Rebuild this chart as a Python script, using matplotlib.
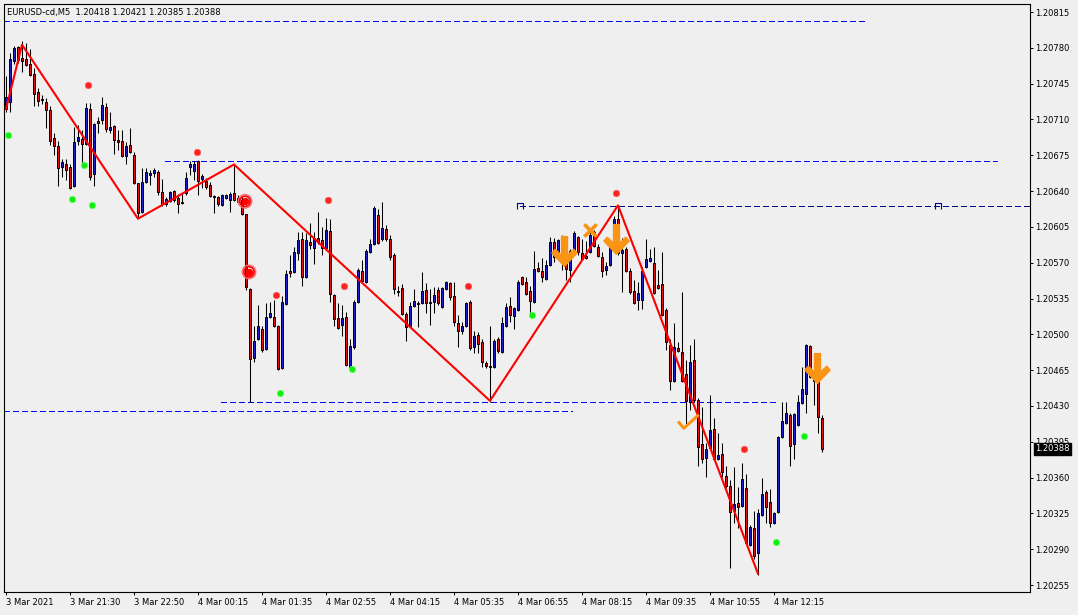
import numpy as np
import matplotlib.pyplot as plt
from matplotlib.path import Path
from matplotlib.transforms import blended_transform_factory

# EURUSD M5 candles (open / high / low / close)
opens = [1.20720, 1.20727, 1.20767, 1.20781, 1.20770, 1.20769, 1.20764, 1.20754, 1.20737, 1.20730,
         1.20727, 1.20719, 1.20692, 1.20684, 1.20664, 1.20666, 1.20664, 1.20645, 1.20689, 1.20691,
         1.20686, 1.20720, 1.20657, 1.20708, 1.20709, 1.20722, 1.20700, 1.20704, 1.20690, 1.20689,
         1.20674, 1.20685, 1.20675, 1.20648, 1.20620, 1.20649, 1.20656, 1.20658, 1.20659, 1.20639,
         1.20627, 1.20630, 1.20640, 1.20633, 1.20629, 1.20638, 1.20664, 1.20660, 1.20669, 1.20652,
         1.20650, 1.20646, 1.20635, 1.20634, 1.20626, 1.20633, 1.20631, 1.20638, 1.20629, 1.20631,
         1.20618, 1.20544, 1.20477, 1.20495, 1.20505, 1.20486, 1.20517, 1.20517, 1.20508, 1.20467,
         1.20530, 1.20562, 1.20561, 1.20579, 1.20593, 1.20556, 1.20590, 1.20584, 1.20594, 1.20592,
         1.20584, 1.20601, 1.20538, 1.20516, 1.20509, 1.20517, 1.20467, 1.20488, 1.20532, 1.20562,
         1.20551, 1.20580, 1.20588, 1.20617, 1.20593, 1.20603, 1.20593, 1.20578, 1.20542, 1.20545,
         1.20520, 1.20508, 1.20528, 1.20531, 1.20531, 1.20543, 1.20531, 1.20532, 1.20543, 1.20527,
         1.20544, 1.20550, 1.20537, 1.20511, 1.20503, 1.20508, 1.20532, 1.20488, 1.20499, 1.20492,
         1.20472, 1.20469, 1.20468, 1.20495, 1.20483, 1.20508, 1.20528, 1.20518, 1.20524, 1.20556,
         1.20551, 1.20542, 1.20532, 1.20565, 1.20562, 1.20554, 1.20568, 1.20590, 1.20575, 1.20592,
         1.20571, 1.20563, 1.20579, 1.20595, 1.20579, 1.20577, 1.20580, 1.20600, 1.20585, 1.20576,
         1.20563, 1.20568, 1.20590, 1.20613, 1.20579, 1.20583, 1.20562, 1.20542, 1.20534, 1.20534,
         1.20566, 1.20572, 1.20570, 1.20548, 1.20549, 1.20524, 1.20490, 1.20454, 1.20487, 1.20483,
         1.20461, 1.20434, 1.20475, 1.20436, 1.20393, 1.20379, 1.20389, 1.20407, 1.20378, 1.20383,
         1.20362, 1.20352, 1.20327, 1.20335, 1.20332, 1.20350, 1.20294, 1.20311, 1.20286, 1.20323,
         1.20346, 1.20336, 1.20316, 1.20326, 1.20400, 1.20413, 1.20421, 1.20393, 1.20411, 1.20433,
         1.20442, 1.20489, 1.20457, 1.20454, 1.20418]
highs = [1.20752, 1.20775, 1.20782, 1.20782, 1.20787, 1.20785, 1.20779, 1.20760, 1.20741, 1.20734,
         1.20731, 1.20723, 1.20697, 1.20689, 1.20671, 1.20671, 1.20666, 1.20703, 1.20705, 1.20700,
         1.20726, 1.20726, 1.20707, 1.20712, 1.20732, 1.20726, 1.20717, 1.20705, 1.20700, 1.20700,
         1.20688, 1.20702, 1.20678, 1.20648, 1.20663, 1.20663, 1.20661, 1.20663, 1.20661, 1.20652,
         1.20634, 1.20640, 1.20641, 1.20637, 1.20638, 1.20659, 1.20669, 1.20669, 1.20670, 1.20657,
         1.20653, 1.20649, 1.20636, 1.20635, 1.20637, 1.20637, 1.20639, 1.20666, 1.20636, 1.20634,
         1.20618, 1.20545, 1.20508, 1.20529, 1.20508, 1.20531, 1.20532, 1.20534, 1.20509, 1.20537,
         1.20563, 1.20578, 1.20585, 1.20600, 1.20600, 1.20599, 1.20609, 1.20600, 1.20620, 1.20605,
         1.20614, 1.20613, 1.20539, 1.20531, 1.20529, 1.20522, 1.20495, 1.20534, 1.20565, 1.20573,
         1.20583, 1.20593, 1.20625, 1.20622, 1.20629, 1.20607, 1.20597, 1.20579, 1.20547, 1.20549,
         1.20522, 1.20532, 1.20544, 1.20533, 1.20561, 1.20550, 1.20544, 1.20546, 1.20546, 1.20546,
         1.20552, 1.20551, 1.20551, 1.20519, 1.20512, 1.20532, 1.20534, 1.20503, 1.20502, 1.20495,
         1.20474, 1.20508, 1.20495, 1.20497, 1.20517, 1.20531, 1.20536, 1.20527, 1.20553, 1.20557,
         1.20556, 1.20547, 1.20581, 1.20571, 1.20575, 1.20573, 1.20595, 1.20594, 1.20593, 1.20597,
         1.20575, 1.20583, 1.20601, 1.20596, 1.20593, 1.20591, 1.20600, 1.20602, 1.20588, 1.20580,
         1.20571, 1.20590, 1.20616, 1.20626, 1.20594, 1.20585, 1.20565, 1.20553, 1.20551, 1.20566,
         1.20593, 1.20583, 1.20585, 1.20563, 1.20580, 1.20526, 1.20495, 1.20511, 1.20492, 1.20541,
         1.20475, 1.20490, 1.20495, 1.20438, 1.20429, 1.20394, 1.20441, 1.20418, 1.20404, 1.20394,
         1.20371, 1.20358, 1.20370, 1.20351, 1.20374, 1.20363, 1.20314, 1.20327, 1.20329, 1.20360,
         1.20348, 1.20349, 1.20326, 1.20401, 1.20434, 1.20434, 1.20423, 1.20423, 1.20441, 1.20468,
         1.20491, 1.20490, 1.20472, 1.20458, 1.20421]
lows = [1.20717, 1.20717, 1.20764, 1.20765, 1.20756, 1.20762, 1.20752, 1.20723, 1.20723, 1.20725,
        1.20702, 1.20685, 1.20675, 1.20645, 1.20654, 1.20651, 1.20642, 1.20644, 1.20685, 1.20666,
        1.20685, 1.20651, 1.20645, 1.20697, 1.20706, 1.20698, 1.20697, 1.20676, 1.20680, 1.20673,
        1.20666, 1.20677, 1.20647, 1.20614, 1.20619, 1.20648, 1.20646, 1.20654, 1.20636, 1.20625,
        1.20625, 1.20629, 1.20629, 1.20619, 1.20627, 1.20636, 1.20656, 1.20651, 1.20636, 1.20643,
        1.20642, 1.20634, 1.20619, 1.20625, 1.20625, 1.20632, 1.20620, 1.20630, 1.20627, 1.20617,
        1.20543, 1.20434, 1.20473, 1.20494, 1.20483, 1.20485, 1.20516, 1.20507, 1.20465, 1.20466,
        1.20529, 1.20556, 1.20560, 1.20573, 1.20547, 1.20555, 1.20583, 1.20569, 1.20588, 1.20578,
        1.20583, 1.20532, 1.20508, 1.20505, 1.20498, 1.20469, 1.20466, 1.20486, 1.20531, 1.20551,
        1.20550, 1.20579, 1.20587, 1.20588, 1.20591, 1.20591, 1.20573, 1.20539, 1.20537, 1.20519,
        1.20493, 1.20507, 1.20527, 1.20507, 1.20530, 1.20521, 1.20509, 1.20521, 1.20529, 1.20526,
        1.20543, 1.20534, 1.20508, 1.20488, 1.20500, 1.20507, 1.20485, 1.20482, 1.20482, 1.20468,
        1.20467, 1.20434, 1.20467, 1.20482, 1.20482, 1.20507, 1.20512, 1.20505, 1.20523, 1.20548,
        1.20538, 1.20520, 1.20531, 1.20561, 1.20551, 1.20553, 1.20567, 1.20571, 1.20574, 1.20563,
        1.20553, 1.20551, 1.20578, 1.20578, 1.20573, 1.20574, 1.20579, 1.20585, 1.20576, 1.20556,
        1.20558, 1.20567, 1.20589, 1.20578, 1.20541, 1.20561, 1.20539, 1.20530, 1.20524, 1.20525,
        1.20565, 1.20571, 1.20539, 1.20544, 1.20518, 1.20485, 1.20446, 1.20453, 1.20483, 1.20453,
        1.20410, 1.20426, 1.20434, 1.20371, 1.20374, 1.20361, 1.20388, 1.20377, 1.20377, 1.20361,
        1.20350, 1.20272, 1.20316, 1.20311, 1.20331, 1.20295, 1.20293, 1.20280, 1.20265, 1.20322,
        1.20316, 1.20312, 1.20315, 1.20325, 1.20399, 1.20412, 1.20371, 1.20378, 1.20410, 1.20432,
        1.20423, 1.20457, 1.20431, 1.20404, 1.20385]
closes = [1.20732, 1.20769, 1.20780, 1.20768, 1.20767, 1.20763, 1.20753, 1.20735, 1.20728, 1.20729,
          1.20719, 1.20689, 1.20684, 1.20663, 1.20668, 1.20661, 1.20643, 1.20688, 1.20693, 1.20686,
          1.20721, 1.20654, 1.20706, 1.20707, 1.20724, 1.20701, 1.20703, 1.20690, 1.20688, 1.20674,
          1.20684, 1.20678, 1.20648, 1.20619, 1.20649, 1.20659, 1.20658, 1.20661, 1.20639, 1.20627,
          1.20632, 1.20639, 1.20631, 1.20627, 1.20628, 1.20653, 1.20666, 1.20666, 1.20650, 1.20655,
          1.20644, 1.20635, 1.20634, 1.20627, 1.20636, 1.20636, 1.20637, 1.20631, 1.20633, 1.20618,
          1.20546, 1.20476, 1.20493, 1.20508, 1.20485, 1.20517, 1.20521, 1.20508, 1.20466, 1.20532,
          1.20559, 1.20560, 1.20580, 1.20592, 1.20556, 1.20592, 1.20587, 1.20594, 1.20590, 1.20584,
          1.20602, 1.20539, 1.20515, 1.20506, 1.20516, 1.20470, 1.20489, 1.20532, 1.20563, 1.20552,
          1.20581, 1.20588, 1.20623, 1.20589, 1.20604, 1.20593, 1.20576, 1.20544, 1.20541, 1.20520,
          1.20507, 1.20528, 1.20533, 1.20530, 1.20542, 1.20531, 1.20532, 1.20538, 1.20531, 1.20545,
          1.20551, 1.20536, 1.20512, 1.20503, 1.20508, 1.20531, 1.20487, 1.20498, 1.20491, 1.20473,
          1.20469, 1.20468, 1.20493, 1.20484, 1.20511, 1.20527, 1.20519, 1.20526, 1.20551, 1.20549,
          1.20539, 1.20533, 1.20564, 1.20562, 1.20556, 1.20568, 1.20590, 1.20576, 1.20592, 1.20571,
          1.20564, 1.20581, 1.20599, 1.20580, 1.20574, 1.20575, 1.20597, 1.20586, 1.20577, 1.20562,
          1.20567, 1.20589, 1.20613, 1.20579, 1.20582, 1.20562, 1.20541, 1.20531, 1.20540, 1.20562,
          1.20574, 1.20575, 1.20540, 1.20545, 1.20519, 1.20492, 1.20454, 1.20488, 1.20484, 1.20454,
          1.20435, 1.20473, 1.20436, 1.20390, 1.20378, 1.20388, 1.20406, 1.20378, 1.20382, 1.20365,
          1.20352, 1.20326, 1.20334, 1.20331, 1.20359, 1.20296, 1.20312, 1.20283, 1.20325, 1.20344,
          1.20331, 1.20316, 1.20325, 1.20400, 1.20415, 1.20423, 1.20391, 1.20422, 1.20434, 1.20447,
          1.20490, 1.20458, 1.20454, 1.20419, 1.20388]

# zigzag pivots (bar index, price)
zz_bars = [0, 4, 33, 57, 121, 153, 188]
zz_prices = [1.20720, 1.20783, 1.20613, 1.20666, 1.20435, 1.20626, 1.20266]

# fractal dots
red_dot_bars = [20.5, 47.75, 80.5, 67.5, 84.5, 115.5, 152.5, 184.5]
red_dot_prices = [1.20744, 1.20678, 1.20631, 1.20538, 1.20547, 1.20547, 1.20638, 1.20388]
green_dot_bars = [0.5, 16.5, 19.5, 21.5, 68.5, 86.5, 131.5, 192.5, 199.5]
green_dot_prices = [1.20695, 1.20632, 1.20665, 1.20626, 1.20443, 1.20466, 1.20519, 1.20297, 1.20401]

# target rings, sell arrows, cross and check signs
ring_bars = [59.75, 60.75]
ring_prices = [1.20630, 1.20561]
arrow_bars = [139.5, 152.5, 202.75]
arrow_prices = [1.20581, 1.20593, 1.20467]
cross_bar, cross_price = 146, 1.20602
check_bar, check_price = 170.5, 1.20414

# horizontal levels (price, first bar, last bar)
level_prices = [1.20806, 1.20669, 1.20625, 1.20434, 1.20425]
level_from = [-0.5, 39.75, 128.5, 53.75, -0.5]
level_to = [214.75, 247.75, 256, 192.25, 141.5]
level_colors = ['#0000ff', '#0000ff', '#00008b', '#0000ff', '#0000ff']
# little price tags sitting on the 1.20625 level
tag_bars = [128.5, 233]
tag_price = 1.20625

price_ticks = [1.20255, 1.20290, 1.20325, 1.20360, 1.20395, 1.20430, 1.20465, 1.20500, 1.20535,
               1.20570, 1.20605, 1.20640, 1.20675, 1.20710, 1.20745, 1.20780, 1.20815]
time_tick_bars = [0, 16, 32, 48, 64, 80, 96, 112, 128, 144, 160, 176, 192]
time_labels = ['3 Mar 2021', '3 Mar 21:30', '3 Mar 22:50', '4 Mar 00:15', '4 Mar 01:35',
               '4 Mar 02:55', '4 Mar 04:15', '4 Mar 05:35', '4 Mar 06:55', '4 Mar 08:15',
               '4 Mar 09:35', '4 Mar 10:55', '4 Mar 12:15']
title = 'EURUSD-cd,M5  1.20418 1.20421 1.20385 1.20388'
last_price = 1.20388

bg = '#efefef'
plt.rcParams['lines.scale_dashes'] = False

fig = plt.figure(figsize=(10.78, 6.15), dpi=100, facecolor=bg)
ax = fig.add_axes([4 / 1078, 23 / 615, 1026 / 1078, 588 / 615])
ax.set_facecolor(bg)

o = np.array(opens)
h = np.array(highs)
l = np.array(lows)
c = np.array(closes)
x = np.arange(len(o))
up = c >= o

ax.vlines(x, l, h, color='black', lw=0.75, zorder=2)
bot = np.minimum(o, c)
hgt = np.abs(c - o)
ax.bar(x[up], hgt[up], bottom=bot[up], width=0.6, color='#1c1cc8',
       edgecolor='black', lw=0.7, zorder=3)
ax.bar(x[~up], hgt[~up], bottom=bot[~up], width=0.6, color='#e01010',
       edgecolor='black', lw=0.7, zorder=3)

# levels
for p, a, b, col in zip(level_prices, level_from, level_to, level_colors):
    ax.plot([a, b], [p, p], color=col, lw=0.75, ls=(0, (3.6, 2.2)), antialiased=False,
            zorder=1)
tag = Path([(-1, -1), (-1, 1), (1, 1), (1, -1)], [Path.MOVETO, Path.LINETO, Path.LINETO, Path.LINETO])
ax.plot(tag_bars, [tag_price] * len(tag_bars), ls='none', marker=tag, ms=4, mfc='none',
        mec='#00008b', mew=0.8, zorder=1)

# zigzag
ax.plot(zz_bars, zz_prices, color='#ff0000', lw=1.5, zorder=4)

# dots
ax.scatter(red_dot_bars, red_dot_prices, s=22, color='#ff2020', edgecolors='#ff6060',
           linewidths=0.5, zorder=5)
ax.scatter(green_dot_bars, green_dot_prices, s=22, color='#10ee10', edgecolors='#70ff70',
           linewidths=0.5, zorder=5)

# rings
ax.scatter(ring_bars, ring_prices, s=95, facecolors='none', edgecolors='#ff7070',
           linewidths=1.0, zorder=5)
ax.scatter(ring_bars, ring_prices, s=55, facecolors='none', edgecolors='#ff0000',
           linewidths=1.2, zorder=5)
ax.scatter(ring_bars, ring_prices, s=18, color='#ff0000', zorder=6)

# sell arrows
orange = '#fa9414'
arrow = Path([(-0.2, 1), (0.2, 1), (0.2, -0.25), (0.62, 0.15), (0.85, -0.1), (0, -1),
              (-0.85, -0.1), (-0.62, 0.15), (-0.2, -0.25), (-0.2, 1)],
             [Path.MOVETO] + [Path.LINETO] * 8 + [Path.CLOSEPOLY])
ax.scatter(arrow_bars, arrow_prices, marker=arrow, s=460, color=orange, zorder=7)

# cross and check
ax.scatter([cross_bar], [cross_price], marker='x', s=80, color=orange, linewidths=2.6, zorder=7)
check = Path([(-1, 0.1), (-0.45, -0.55), (1, 0.75)], [Path.MOVETO, Path.LINETO, Path.LINETO])
ax.plot([check_bar], [check_price], marker=check, ms=15, mfc='none', mec=orange, mew=2.2,
        zorder=7)

ax.set_xlim(-0.5, 256)
ax.set_ylim(1.2024816, 1.2082282)

ax.yaxis.tick_right()
ax.set_yticks(price_ticks)
ax.set_yticklabels([f'{p:.5f}' for p in price_ticks])
ax.set_xticks(time_tick_bars)
ax.set_xticklabels(time_labels)
for lab in ax.get_xticklabels():
    lab.set_horizontalalignment('left')
ax.tick_params(axis='y', length=2.5, width=0.7, pad=1.5, labelsize=6)
ax.tick_params(axis='x', length=2.5, width=0.7, pad=1.5, labelsize=6)
for s in ax.spines.values():
    s.set_linewidth(0.8)
    s.set_color('black')

# current price box (covers part of the 1.20395 label, as in the terminal)
tr = blended_transform_factory(ax.transAxes, ax.transData)
ax.text(1.0 + 5 / 1026, last_price, f'{last_price:.5f}', transform=tr, color='white',
        fontsize=6, va='center', ha='left', zorder=10,
        bbox=dict(boxstyle='square,pad=0.15', fc='black', ec='black'))

fig.text(7 / 1078, 1 - 12.5 / 615, title, fontsize=6, va='center', ha='left')

fig.savefig('out.png', dpi=100, facecolor=bg)
